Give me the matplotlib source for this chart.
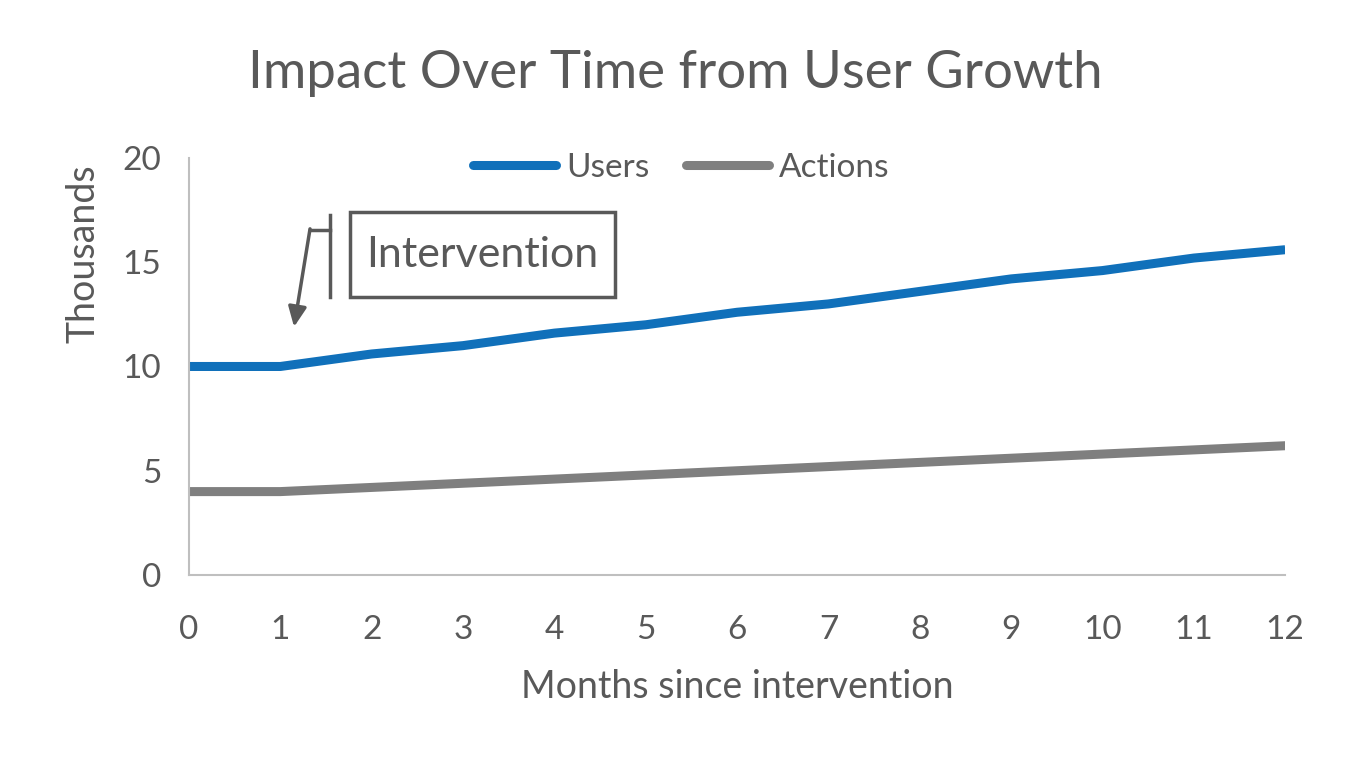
import matplotlib.pyplot as plt
from matplotlib.patches import Rectangle

months = list(range(13))
users = [10.0, 10.0, 10.6, 11.0, 11.6, 12.0, 12.6, 13.0, 13.6, 14.2, 14.6, 15.2, 15.6]
actions = [4.0, 4.0, 4.2, 4.4, 4.6, 4.8, 5.0, 5.2, 5.4, 5.6, 5.8, 6.0, 6.2]

TXT = "#595959"
BLUE = "#1070BA"
GREY = "#7F7F7F"

plt.rcParams["font.family"] = ["Lato", "DejaVu Sans"]

fig = plt.figure(figsize=(13.5, 7.62), dpi=100)
ax = fig.add_axes([0.14, 0.2454, 0.812, 0.5473])

ax.plot(months, users, color=BLUE, lw=6.5, label="Users", solid_capstyle="butt")
ax.plot(months, actions, color=GREY, lw=6.5, label="Actions", solid_capstyle="butt")

ax.set_xlim(0, 12)
ax.set_ylim(0, 20)
ax.set_xticks(months)
ax.set_yticks([0, 5, 10, 15, 20])
ax.tick_params(length=0, labelsize=24, labelcolor=TXT)
ax.tick_params(axis="x", pad=29)
ax.tick_params(axis="y", pad=20)
for s in ["top", "right"]:
    ax.spines[s].set_visible(False)
for s in ["left", "bottom"]:
    ax.spines[s].set_color("#BFBFBF")
    ax.spines[s].set_linewidth(1.5)

ax.set_xlabel("Months since intervention", fontsize=27, color=TXT, labelpad=17)
ax.set_ylabel("Thousands", fontsize=27, color=TXT)
ax.yaxis.set_label_coords(-0.08, 0.77)
fig.suptitle("Impact Over Time from User Growth", fontsize=38, color=TXT, y=0.935)

leg = ax.legend(loc="upper center", bbox_to_anchor=(0.449, 1.085), ncol=2, frameon=False,
                fontsize=24, handlelength=2.5, handletextpad=0.3, columnspacing=1.1)
for t in leg.get_texts():
    t.set_color(TXT)
for h in leg.get_lines():
    h.set_solid_capstyle("round")

# intervention callout
ax.add_patch(Rectangle((1.763, 13.33), 2.9, 4.08, fill=False, ec=TXT, lw=2.5, clip_on=False))
ax.text(3.21, 15.37, "Intervention", fontsize=31, color=TXT, ha="center", va="center")
ax.plot([1.544, 1.544], [13.33, 17.27], color=TXT, lw=2.5)
ax.plot([1.544, 1.325], [16.55, 16.55], color=TXT, lw=2.5)
ax.annotate("", xy=(1.15, 11.9), xytext=(1.325, 16.6),
            arrowprops=dict(arrowstyle="-|>,head_length=1.2,head_width=0.55", color=TXT, lw=2.5,
                            shrinkA=0, shrinkB=0))

fig.savefig("out.png", dpi=100)
